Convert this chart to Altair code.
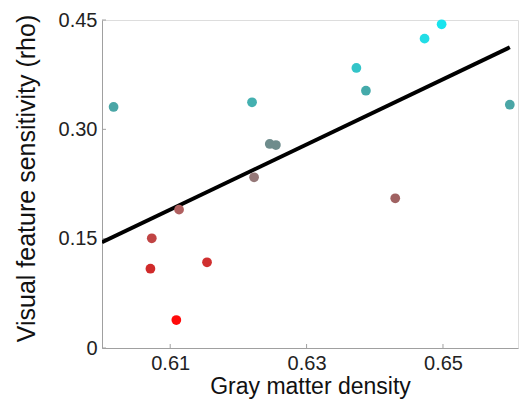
import altair as alt
import pandas as pd

# Scatter points (gray matter density vs visual feature sensitivity)
density = [0.6017, 0.6220, 0.6246, 0.6255, 0.6223, 0.6498, 0.6473, 0.6373,
           0.6387, 0.6598, 0.6430, 0.6113, 0.6073, 0.6071, 0.6154, 0.6109]
rho = [0.3307, 0.3371, 0.2799, 0.2785, 0.2342, 0.4441, 0.4244, 0.3842,
       0.3530, 0.3338, 0.2054, 0.1898, 0.1505, 0.1088, 0.1176, 0.0384]
colors = ["#4aa6a6", "#44b0b0", "#6e8c8c", "#6e8c8c", "#957878", "#18e4ee",
          "#22dde6", "#33c4c8", "#44aaaa", "#4aa6a6", "#a06262", "#b06060",
          "#c04444", "#d02a2a", "#d03030", "#ff0a0a"]

# Regression line endpoints
line_x = [0.600, 0.6598]
line_y = [0.145, 0.4126]

x_ticks = [0.61, 0.63, 0.65]
y_ticks = [0, 0.15, 0.30, 0.45]

W, H = 416, 328
FONT = "Liberation Sans"

pts = pd.DataFrame({"x": density, "y": rho, "c": colors})
ln = pd.DataFrame({"x": line_x, "y": line_y})
xt = pd.DataFrame({"t": x_ticks})
yt = pd.DataFrame({"t": y_ticks})

xscale = alt.Scale(domain=[0.600, 0.661], nice=False, zero=False)
yscale = alt.Scale(domain=[0, 0.45], nice=False)

xaxis = alt.Axis(values=x_ticks, format=".2f", title="Gray matter density",
                 tickSize=0, labelPadding=5, labelFontSize=20, titleFontSize=23,
                 titlePadding=2, domainColor="#a0a0a0", labelColor="#222222",
                 titleColor="#111111", grid=False, labelFont=FONT, titleFont=FONT,
                 titleFontWeight="normal")
yaxis = alt.Axis(values=y_ticks,
                 labelExpr="datum.value == 0 ? '0' : format(datum.value, '.2f')",
                 title="Visual feature sensitivity (rho)",
                 tickSize=0, labelPadding=5, labelFontSize=20, titleFontSize=25,
                 titlePadding=19, titleY=158, domainColor="#a0a0a0",
                 labelColor="#222222", titleColor="#111111", grid=False,
                 labelFont=FONT, titleFont=FONT, titleFontWeight="normal")

base_axes = alt.Chart(pts).mark_point(opacity=0).encode(
    x=alt.X("x:Q", scale=xscale, axis=xaxis),
    y=alt.Y("y:Q", scale=yscale, axis=yaxis),
)

xtick_marks = alt.Chart(xt).mark_rule(color="#a0a0a0", strokeWidth=1).encode(
    x=alt.X("t:Q", scale=xscale),
    y=alt.value(H), y2=alt.value(H - 4),
)
ytick_marks = alt.Chart(yt).mark_rule(color="#a0a0a0", strokeWidth=1).encode(
    y=alt.Y("t:Q", scale=yscale),
    x=alt.value(0), x2=alt.value(4),
)

line = alt.Chart(ln).mark_line(color="black", strokeWidth=4, clip=True).encode(
    x=alt.X("x:Q", scale=xscale),
    y=alt.Y("y:Q", scale=yscale),
)

dots = alt.Chart(pts).mark_circle(size=95, opacity=1).encode(
    x=alt.X("x:Q", scale=xscale),
    y=alt.Y("y:Q", scale=yscale),
    color=alt.Color("c:N", scale=None),
)

chart = alt.layer(base_axes, xtick_marks, ytick_marks, line, dots).properties(
    width=W, height=H,
    autosize=alt.AutoSizeParams(type="none"),
    padding={"left": 94, "top": 12, "right": 3, "bottom": 53},
).configure_view(stroke=None).configure(background="white")

chart.save("out.html", embed_options={"renderer": "svg", "actions": False})
